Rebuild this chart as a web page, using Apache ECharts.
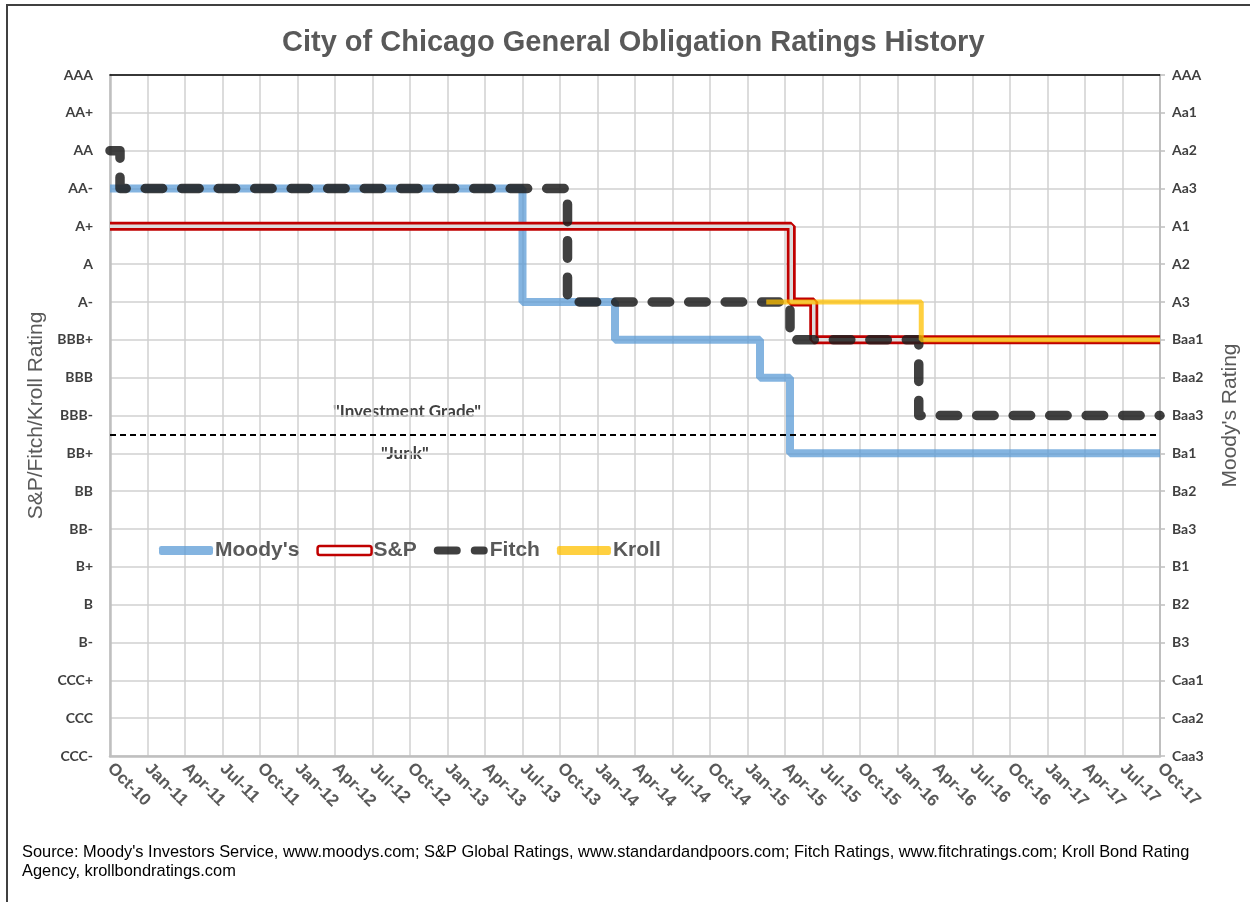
<!DOCTYPE html>
<html>
<head>
<meta charset="utf-8">
<script src="https://cdn.jsdelivr.net/npm/echarts@6/dist/echarts.min.js"></script>
<style>
  html, body { margin: 0; padding: 0; background: #fff; }
  #chart { width: 1250px; height: 902px; }
</style>
</head>
<body>
<div id="chart"></div>
<script>
// rating scales, top to bottom as printed on the axes
var spLabels = ['AAA', 'AA+', 'AA', 'AA-', 'A+', 'A', 'A-', 'BBB+', 'BBB', 'BBB-',
  'BB+', 'BB', 'BB-', 'B+', 'B', 'B-', 'CCC+', 'CCC', 'CCC-'];
var moodysLabels = ['AAA', 'Aa1', 'Aa2', 'Aa3', 'A1', 'A2', 'A3', 'Baa1', 'Baa2', 'Baa3',
  'Ba1', 'Ba2', 'Ba3', 'B1', 'B2', 'B3', 'Caa1', 'Caa2', 'Caa3'];

// one label every 3 months, starting Oct-10 (month 0)
var dateLabels = ['Oct-10', 'Jan-11', 'Apr-11', 'Jul-11', 'Oct-11', 'Jan-12', 'Apr-12', 'Jul-12',
  'Oct-12', 'Jan-13', 'Apr-13', 'Jul-13', 'Oct-13', 'Jan-14', 'Apr-14', 'Jul-14', 'Oct-14',
  'Jan-15', 'Apr-15', 'Jul-15', 'Oct-15', 'Jan-16', 'Apr-16', 'Jul-16', 'Oct-16', 'Jan-17',
  'Apr-17', 'Jul-17', 'Oct-17'];

// [months since Oct-10, rating level] with 0 = CCC- and 18 = AAA
var moodys = [[0, 15], [33, 12], [40.4, 11], [52, 10], [54.4, 8], [84, 8]];
var sp = [[0, 14], [54.5, 12], [56.3, 11], [84, 11]];
var fitch = [[0, 16], [0.8, 15], [36.6, 12], [54.4, 11], [64.7, 9], [84, 9]];
var kroll = [[52.5, 12], [64.9, 11], [84, 11]];

var junkLine = 8.5;

var chart = echarts.init(document.getElementById('chart'));

var labelFont = 'Lato, "Liberation Sans", Arial, sans-serif';
var arial = '"Liberation Sans", Arial, sans-serif';

function levelLabel(list) {
  return function (v) {
    var i = 18 - Math.round(v);
    return list[i] || '';
  };
}

var option = {
  animation: false,
  backgroundColor: '#fff',
  title: {
    text: 'City of Chicago General Obligation Ratings History',
    left: 277,
    top: 23,
    textStyle: {
      fontFamily: arial,
      fontSize: 29,
      fontWeight: 'bold',
      color: '#595959'
    }
  },
  grid: { left: 110, right: 90, top: 75, bottom: 146 },
  legend: {
    left: 154,
    top: 535,
    itemWidth: 54,
    itemHeight: 9,
    itemGap: 17,
    textStyle: {
      fontFamily: arial,
      fontSize: 21,
      fontWeight: 'bold',
      color: '#595959',
      padding: [0, 0, 0, -3]
    },
    data: [
      { name: "Moody's", icon: 'roundRect', itemStyle: { color: 'rgba(91,155,213,0.75)' } },
      { name: 'S&P', icon: 'roundRect', itemStyle: { color: '#fff', borderColor: '#c00000', borderWidth: 2.5 } },
      { name: 'Fitch', icon: 'path://M4,0 h19 a4,4 0 0 1 0,8 h-19 a4,4 0 0 1 0,-8z M41,0 h9 a4,4 0 0 1 0,8 h-9 a4,4 0 0 1 0,-8z',
        itemStyle: { color: 'rgba(30,30,30,0.85)' } },
      { name: 'Kroll', icon: 'roundRect', itemStyle: { color: 'rgba(255,192,0,0.75)' } }
    ]
  },
  xAxis: [
    {
      type: 'value',
      min: 0,
      max: 84,
      interval: 3,
      axisLine: { onZero: false, lineStyle: { color: '#bfbfbf', width: 2.5 } },
      axisTick: { show: false },
      splitLine: { lineStyle: { color: '#d0d0d0', width: 1.5 } },
      axisLabel: {
        rotate: -45,
        margin: 10,
        fontFamily: arial,
        fontSize: 17,
        fontWeight: 'bold',
        color: '#595959',
        formatter: function (v) { return dateLabels[Math.round(v / 3)] || ''; }
      }
    },
    {
      type: 'value',
      position: 'top',
      min: 0,
      max: 84,
      axisLine: { show: true, onZero: false, lineStyle: { color: '#000', width: 1.5 } },
      axisTick: { show: false },
      axisLabel: { show: false },
      splitLine: { show: false }
    }
  ],
  yAxis: [
    {
      type: 'value',
      min: 0,
      max: 18,
      interval: 1,
      name: 'S&P/Fitch/Kroll Rating',
      nameLocation: 'middle',
      nameRotate: 90,
      nameGap: 60,
      nameTextStyle: { fontFamily: arial, fontSize: 21, color: '#595959' },
      axisLine: { show: true, onZero: false, lineStyle: { color: '#bfbfbf', width: 2.5 } },
      axisTick: { show: false },
      splitLine: { lineStyle: { color: '#d0d0d0', width: 1.5 } },
      axisLabel: {
        margin: 17,
        fontFamily: labelFont,
        fontSize: 14,
        fontWeight: 'bold',
        color: '#404040',
        formatter: levelLabel(spLabels)
      }
    },
    {
      type: 'value',
      position: 'right',
      min: 0,
      max: 18,
      interval: 1,
      name: "Moody's Rating",
      nameLocation: 'middle',
      nameRotate: 90,
      nameGap: 60,
      nameTextStyle: { fontFamily: arial, fontSize: 21, color: '#595959' },
      axisLine: { show: true, onZero: false, lineStyle: { color: '#bfbfbf', width: 2 } },
      axisTick: { show: true, length: 5, lineStyle: { color: '#bfbfbf', width: 1.5 } },
      splitLine: { show: false },
      axisLabel: {
        margin: 12,
        fontFamily: labelFont,
        fontSize: 14,
        fontWeight: 'bold',
        color: '#404040',
        formatter: levelLabel(moodysLabels)
      }
    }
  ],
  series: [
    {
      name: "Moody's",
      type: 'line',
      step: 'end',
      data: moodys,
      showSymbol: false,
      lineStyle: { color: 'rgba(91,155,213,0.75)', width: 8 },
      itemStyle: { color: 'rgba(91,155,213,0.75)' },
      markLine: {
        silent: true,
        symbol: 'none',
        label: { show: false },
        lineStyle: { color: '#000', width: 2, type: [6, 4] },
        data: [{ yAxis: junkLine }]
      }
    },
    {
      name: 'S&P',
      type: 'line',
      step: 'end',
      data: sp,
      showSymbol: false,
      lineStyle: { color: '#c00000', width: 9 },
      itemStyle: { color: '#c00000' }
    },
    {
      name: 'S&P inner',
      type: 'line',
      step: 'end',
      data: sp,
      showSymbol: false,
      lineStyle: { color: '#dcdcdc', width: 3.5 },
      itemStyle: { color: '#dcdcdc' }
    },
    {
      name: 'Fitch',
      type: 'line',
      step: 'end',
      data: fitch,
      showSymbol: false,
      lineStyle: { color: 'rgba(30,30,30,0.85)', width: 9.5, type: [17.5, 19], cap: 'round', join: 'round' },
      itemStyle: { color: 'rgba(30,30,30,0.85)' }
    },
    {
      name: 'Kroll',
      type: 'line',
      step: 'end',
      data: kroll,
      showSymbol: false,
      lineStyle: { color: 'rgba(255,192,0,0.75)', width: 5 },
      itemStyle: { color: 'rgba(255,192,0,0.75)' }
    }
  ],
  graphic: [
    {
      type: 'rect',
      shape: { x: 7, y: 5, width: 1300, height: 1000 },
      style: { fill: 'none', stroke: '#404040', lineWidth: 2 },
      silent: true
    },
    {
      type: 'text',
      left: 333,
      top: 403,
      style: { text: '"Investment Grade"', font: 'bold 17px ' + labelFont, fill: '#404040' }
    },
    {
      type: 'text',
      left: 381,
      top: 445,
      style: { text: '"Junk"', font: 'bold 17px ' + labelFont, fill: '#404040' }
    },
    {
      type: 'text',
      left: 22,
      top: 843,
      style: {
        text: "Source: Moody's Investors Service, www.moodys.com; S&P Global Ratings, www.standardandpoors.com; Fitch Ratings, www.fitchratings.com; Kroll Bond Rating\nAgency, krollbondratings.com",
        font: '16.4px ' + arial,
        fill: '#000',
        lineHeight: 19
      }
    }
  ]
};

chart.setOption(option);
</script>
</body>
</html>
